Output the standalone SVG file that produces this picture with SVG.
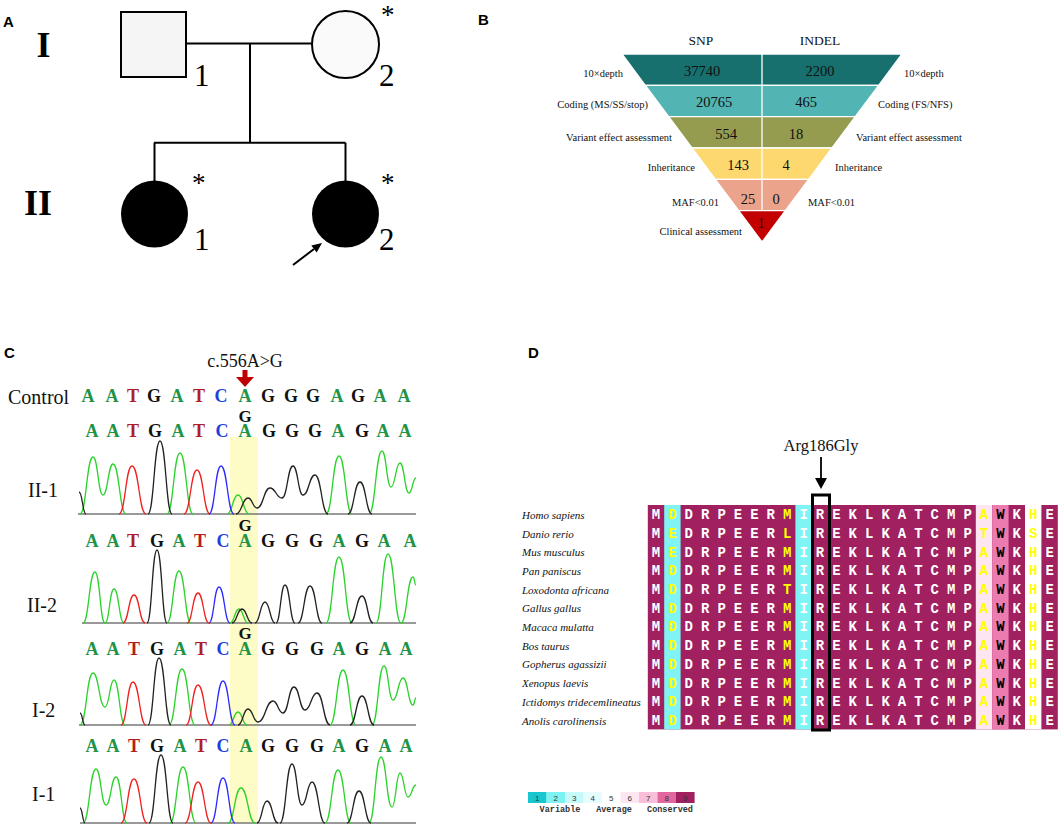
<svg xmlns="http://www.w3.org/2000/svg" width="1059" height="826" viewBox="0 0 1059 826">
<style>
.pl{font-family:"Liberation Sans",Arial,sans-serif;font-weight:bold;font-size:15px;fill:#000}
.ser{font-family:"Liberation Serif","Times New Roman",serif;fill:#111}
.gen{font-family:"Liberation Serif",serif;font-weight:bold;font-size:36px}
.num{font-family:"Liberation Serif",serif;font-size:31px}
.ast{font-family:"Liberation Serif",serif;font-size:27px}
.ln{stroke:#000;stroke-width:2;fill:none}
.fl{font-family:"Liberation Serif",serif;font-size:10.5px;fill:#111}
.fn{font-family:"Liberation Serif",serif;font-size:14.5px;fill:#111;text-anchor:middle}
.band{stroke:#fff;stroke-width:1.3}
.sq{font-family:"Liberation Serif",serif;font-weight:bold;font-size:18px;text-anchor:middle}
.mg{font-family:"Liberation Serif",serif;font-weight:bold;font-size:17px;text-anchor:middle;fill:#111}
.A{fill:#1f9447}.T{fill:#b01e23}.G{fill:#111}.C{fill:#1f3fe0}
.lab{font-family:"Liberation Serif",serif;font-size:20px;fill:#111}
.tr{fill:none;stroke-width:1.3}
.tg{stroke:#2ad22a}.trd{stroke:#f02020}.tb{stroke:#222}.tbl{stroke:#2a2aff}
.ax{stroke:#777;stroke-width:1.5}
.sp{font-family:"Liberation Serif",serif;font-style:italic;font-size:11px;fill:#111}
.aa{font-family:"Liberation Mono","Courier New",monospace;font-weight:bold;font-size:14px;fill:#fff;text-anchor:middle}
.ye{fill:#ffff00}.bk{fill:#000}
.lg{font-family:"Liberation Sans",sans-serif;font-size:8px;fill:#333;text-anchor:middle}
.lgt{font-family:"Liberation Mono",monospace;font-weight:bold;font-size:8.5px;fill:#333;text-anchor:middle}
</style>

<rect width="1059" height="826" fill="#fff"/>

<!-- Panel labels -->
<text class="pl" x="3" y="27">A</text>
<text class="pl" x="478" y="25">B</text>
<text class="pl" x="4" y="358">C</text>
<text class="pl" x="528" y="358">D</text>

<!-- ===== Panel A: pedigree ===== -->
<text class="gen" x="43.5" y="57" text-anchor="middle">I</text>
<text class="gen" x="38" y="215" text-anchor="middle">II</text>

<g id="connectors">
  <path class="ln" d="M186,43.5 H312"/>
  <path class="ln" d="M250,43.5 V142.7"/>
  <path class="ln" d="M154,142.7 H345.5"/>
  <path class="ln" d="M154.5,142.7 V181"/>
  <path class="ln" d="M345.5,142.7 V181"/>
  <path class="ln" d="M293,265 L314,249"/>
  <polygon points="322,243 316.7,252.6 311.3,245.4" fill="#000"/>
</g>

<g id="I-1">
  <rect x="121" y="12" width="65" height="65" fill="#f5f5f5" stroke="#000" stroke-width="2"/>
  <text class="num" x="194" y="86">1</text>
</g>
<g id="I-2">
  <circle cx="345.5" cy="44.5" r="33.5" fill="#fafafa" stroke="#000" stroke-width="2"/>
  <text class="ast" x="381" y="24">*</text>
  <text class="num" x="379" y="86">2</text>
</g>
<g id="II-1">
  <circle cx="154.5" cy="214" r="33.5" fill="#000"/>
  <text class="ast" x="192" y="192">*</text>
  <text class="num" x="194" y="250">1</text>
</g>
<g id="II-2">
  <circle cx="345.5" cy="214" r="33.5" fill="#000"/>
  <text class="ast" x="381" y="192">*</text>
  <text class="num" x="379" y="250">2</text>
</g>

<!-- ===== Panel B: funnel ===== -->
<g id="funnel">
  <text class="ser" x="701" y="45" font-size="13.5" text-anchor="middle">SNP</text>
  <text class="ser" x="820" y="45" font-size="13.5" text-anchor="middle">INDEL</text>
  <polygon class="band" fill="#17706e" points="622,54 902,54 878.7,85.3 645.3,85.3"/>
  <polygon class="band" fill="#52b5b4" points="645.3,85.3 878.7,85.3 855.3,116.7 668.7,116.7"/>
  <polygon class="band" fill="#959b4f" points="668.7,116.7 855.3,116.7 832,148 692,148"/>
  <polygon class="band" fill="#fdd86f" points="692,148 832,148 808.7,179.3 715.3,179.3"/>
  <polygon class="band" fill="#eca38b" points="715.3,179.3 808.7,179.3 785.3,210.7 738.7,210.7"/>
  <polygon class="band" fill="#c20000" points="738.7,210.7 785.3,210.7 762,242"/>
  <path d="M762,54 V210.7" stroke="#fff" stroke-width="1.3"/>
  <text class="fn" x="702" y="76">37740</text>
  <text class="fn" x="820" y="76">2200</text>
  <text class="fn" x="714" y="107">20765</text>
  <text class="fn" x="806" y="107">465</text>
  <text class="fn" x="726" y="139">554</text>
  <text class="fn" x="796" y="139">18</text>
  <text class="fn" x="738" y="170">143</text>
  <text class="fn" x="786" y="170">4</text>
  <text class="fn" x="748" y="204">25</text>
  <text class="fn" x="776" y="204">0</text>
  <text class="fn" x="761" y="228">1</text>
  <g text-anchor="end">
    <text class="fl" x="623" y="77">10×depth</text>
    <text class="fl" x="648" y="108">Coding (MS/SS/stop)</text>
    <text class="fl" x="672" y="141">Variant effect assessment</text>
    <text class="fl" x="695" y="171">Inheritance</text>
    <text class="fl" x="719" y="206">MAF&lt;0.01</text>
    <text class="fl" x="742" y="235">Clinical assessment</text>
  </g>
  <text class="fl" x="904" y="77">10×depth</text>
  <text class="fl" x="878" y="108">Coding (FS/NFS)</text>
  <text class="fl" x="856" y="141">Variant effect assessment</text>
  <text class="fl" x="835" y="171">Inheritance</text>
  <text class="fl" x="808" y="206">MAF&lt;0.01</text>
</g>

<!-- ===== Panel C: chromatograms ===== -->
<g id="sanger">
  <rect x="230" y="437" width="28" height="386" fill="#fdfbc6"/>
  <text class="ser" x="245" y="367" font-size="18" text-anchor="middle">c.556A&gt;G</text>
  <rect x="242.5" y="370" width="5" height="9" fill="#c00000"/>
  <polygon points="236,377 254,377 245,387" fill="#c00000"/>

  <text class="lab" x="8" y="404">Control</text>
  <text class="lab" x="28" y="497">II-1</text>
  <text class="lab" x="27" y="612">II-2</text>
  <text class="lab" x="32" y="717">I-2</text>
  <text class="lab" x="32" y="801">I-1</text>

  <text class="sq" y="402"><tspan class="A" x="88">A</tspan><tspan class="A" x="112">A</tspan><tspan class="T" x="133">T</tspan><tspan class="G" x="154">G</tspan><tspan class="A" x="177">A</tspan><tspan class="T" x="199">T</tspan><tspan class="C" x="221">C</tspan><tspan class="A" x="245">A</tspan><tspan class="G" x="268">G</tspan><tspan class="G" x="291">G</tspan><tspan class="G" x="313">G</tspan><tspan class="A" x="337">A</tspan><tspan class="G" x="358">G</tspan><tspan class="A" x="380">A</tspan><tspan class="A" x="404">A</tspan></text>

  <text class="mg" x="245" y="422">G</text>
  <text class="sq" y="437"><tspan class="A" x="92">A</tspan><tspan class="A" x="113">A</tspan><tspan class="T" x="133">T</tspan><tspan class="G" x="155">G</tspan><tspan class="A" x="178">A</tspan><tspan class="T" x="199">T</tspan><tspan class="C" x="222">C</tspan><tspan class="A" x="245">A</tspan><tspan class="G" x="269">G</tspan><tspan class="G" x="292">G</tspan><tspan class="G" x="315">G</tspan><tspan class="A" x="338">A</tspan><tspan class="G" x="362">G</tspan><tspan class="A" x="383">A</tspan><tspan class="A" x="405">A</tspan></text>

  <text class="mg" x="245" y="531">G</text>
  <text class="sq" y="547"><tspan class="A" x="92">A</tspan><tspan class="A" x="113">A</tspan><tspan class="T" x="133">T</tspan><tspan class="G" x="157">G</tspan><tspan class="A" x="179">A</tspan><tspan class="T" x="200">T</tspan><tspan class="C" x="223">C</tspan><tspan class="A" x="245">A</tspan><tspan class="G" x="268">G</tspan><tspan class="G" x="292">G</tspan><tspan class="G" x="316">G</tspan><tspan class="A" x="339">A</tspan><tspan class="G" x="362">G</tspan><tspan class="A" x="384">A</tspan><tspan class="A" x="410">A</tspan></text>

  <text class="mg" x="245" y="639">G</text>
  <text class="sq" y="655"><tspan class="A" x="92">A</tspan><tspan class="A" x="113">A</tspan><tspan class="T" x="134">T</tspan><tspan class="G" x="157">G</tspan><tspan class="A" x="180">A</tspan><tspan class="T" x="201">T</tspan><tspan class="C" x="223">C</tspan><tspan class="A" x="245">A</tspan><tspan class="G" x="268">G</tspan><tspan class="G" x="292">G</tspan><tspan class="G" x="317">G</tspan><tspan class="A" x="339">A</tspan><tspan class="G" x="362">G</tspan><tspan class="A" x="385">A</tspan><tspan class="A" x="406">A</tspan></text>

  <text class="sq" y="752"><tspan class="A" x="92">A</tspan><tspan class="A" x="113">A</tspan><tspan class="T" x="134">T</tspan><tspan class="G" x="157">G</tspan><tspan class="A" x="180">A</tspan><tspan class="T" x="201">T</tspan><tspan class="C" x="223">C</tspan><tspan class="A" x="246">A</tspan><tspan class="G" x="268">G</tspan><tspan class="G" x="292">G</tspan><tspan class="G" x="317">G</tspan><tspan class="A" x="339">A</tspan><tspan class="G" x="362">G</tspan><tspan class="A" x="385">A</tspan><tspan class="A" x="406">A</tspan></text>

  <!-- trace II-1 -->
  <path class="ax" d="M78,514 H416"/>
  <path class="tr tg" d="M80,514 C86.5,514 86.5,457 93,457 C98,457 98,495 103,495 C108,495 108,464 113,464 C119.5,464 119.5,514 126,514 M167,514 C173.5,514 173.5,453 180,453 C186.5,453 186.5,514 193,514 M227,514 C232.5,514 232.5,495 238,495 C243.5,495 243.5,514 249,514 M326,514 C332.5,514 332.5,456 339,456 C345.5,456 345.5,514 352,514 M369,514 C375.5,514 375.5,451 382,451 C386.5,451 386.5,487 391,487 C395.5,487 395.5,463 400,463 C404.5,463 404.5,493 409,493 C412.5,493 412.5,478 416,478"/>
  <path class="tr trd" d="M119,514 C125.5,514 125.5,466 132,466 C139,466 139,514 146,514 M184,514 C190.5,514 190.5,470 197,470 C203.5,470 203.5,514 210,514"/>
  <path class="tr tb" d="M79,492 C82.5,492 82.5,514 86,514 M148,514 C154,514 154,441 160,441 C166,441 166,514 172,514 M236,514 C242,514 242,498 248,498 C252.5,498 252.5,508 257,508 C263.5,508 263.5,488 270,488 C276,488 276,498 282,498 C287.5,498 287.5,466 293,466 C298,466 298,495 303,495 C309,495 309,475 315,475 C321.5,475 321.5,514 328,514 M348,514 C354,514 354,482 360,482 C366,482 366,514 372,514"/>
  <path class="tr tbl" d="M209,514 C215,514 215,466 221,466 C227.5,466 227.5,514 234,514"/>

  <!-- trace II-2 -->
  <path class="ax" d="M82,623 H416"/>
  <path class="tr tg" d="M83,623 C89,623 89,572 95,572 C100,572 100,623 105,623 C109.5,623 109.5,589 114,589 C119,589 119,623 124,623 M167,623 C173,623 173,571 179,571 C185,571 185,623 191,623 M230,623 C234.5,623 234.5,609 239,609 C243.5,609 243.5,623 248,623 M326,623 C332.5,623 332.5,557 339,557 C345.5,557 345.5,623 352,623 M376,623 C382,623 382,554 388,554 C394.5,554 394.5,623 401,623 C407,623 407,577 413,577 C414.5,577 414.5,585 416,585"/>
  <path class="tr trd" d="M123,623 C128.5,623 128.5,595 134,595 C139.5,595 139.5,623 145,623 M187,623 C192.5,623 192.5,593 198,593 C203.5,593 203.5,623 209,623"/>
  <path class="tr tb" d="M147,623 C152,623 152,550 157,550 C162,550 162,623 167,623 M232,623 C237,623 237,609 242,609 C247,609 247,623 252,623 M255,623 C260,623 260,602 265,602 C270,602 270,623 275,623 M276,623 C280.5,623 280.5,585 285,585 C290,585 290,623 295,623 M298,623 C304,623 304,586 310,586 C316,586 316,623 322,623 M350,623 C356,623 356,596 362,596 C367.5,596 367.5,623 373,623"/>
  <path class="tr tbl" d="M209,623 C214,623 214,587 219,587 C224.5,587 224.5,623 230,623"/>

  <!-- trace I-2 -->
  <path class="ax" d="M79,725 H416"/>
  <path class="tr tg" d="M80,725 C86.5,725 86.5,673 93,673 C99,673 99,707 105,707 C109.5,707 109.5,680 114,680 C119.5,680 119.5,725 125,725 M169,725 C175.5,725 175.5,669 182,669 C188.5,669 188.5,725 195,725 M229,725 C233.5,725 233.5,712 238,712 C242.5,712 242.5,725 247,725 M330,725 C336.5,725 336.5,670 343,670 C349.5,670 349.5,725 356,725 M372,725 C378,725 378,666 384,666 C388.5,666 388.5,700 393,700 C398,700 398,678 403,678 C408,678 408,705 413,705 C414.5,705 414.5,698 416,698"/>
  <path class="tr trd" d="M121,725 C127,725 127,682 133,682 C139.5,682 139.5,725 146,725 M186,725 C192,725 192,685 198,685 C204.5,685 204.5,725 211,725"/>
  <path class="tr tb" d="M80,713 C82.5,713 82.5,725 85,725 M148,725 C153.5,725 153.5,658 159,658 C165,658 165,725 171,725 M238,725 C243,725 243,709 248,709 C253,709 253,722 258,722 C265.5,722 265.5,701 273,701 C278,701 278,713 283,713 C288.5,713 288.5,687 294,687 C299.5,687 299.5,710 305,710 C311,710 311,693 317,693 C323.5,693 323.5,725 330,725 M350,725 C356,725 356,696 362,696 C368,696 368,725 374,725"/>
  <path class="tr tbl" d="M211,725 C217,725 217,681 223,681 C229,681 229,725 235,725"/>

  <!-- trace I-1 -->
  <path class="ax" d="M80,823 H416"/>
  <path class="tr tg" d="M83,823 C89.5,823 89.5,769 96,769 C101,769 101,805 106,805 C111,805 111,777 116,777 C121.5,777 121.5,823 127,823 M170,823 C176.5,823 176.5,767 183,767 C189.5,767 189.5,823 196,823 M228,823 C234.5,823 234.5,788 241,788 C248,788 248,823 255,823 M325,823 C331.5,823 331.5,770 338,770 C344.5,770 344.5,823 351,823 M369,823 C375,823 375,757 381,757 C386.5,757 386.5,807 392,807 C396,807 396,773 400,773 C404,773 404,797 408,797 C412,797 412,785 416,785"/>
  <path class="tr trd" d="M121,823 C127.5,823 127.5,779 134,779 C140.5,779 140.5,823 147,823 M185,823 C191.5,823 191.5,782 198,782 C204.5,782 204.5,823 211,823"/>
  <path class="tr tb" d="M80,808 C82.5,808 82.5,823 85,823 M149,823 C155,823 155,755 161,755 C167,755 167,823 173,823 M257,823 C262,823 262,801 267,801 C272.5,801 272.5,823 278,823 M280,823 C286,823 286,764 292,764 C297,764 297,805 302,805 C307,805 307,782 312,782 C318.5,782 318.5,823 325,823 M347,823 C353,823 353,791 359,791 C365,791 365,823 371,823"/>
  <path class="tr tbl" d="M211,823 C217,823 217,778 223,778 C229,778 229,823 235,823"/>
</g>

<!-- ===== Panel D: alignment ===== -->
<g id="alignment">
  <text class="ser" x="821" y="451" font-size="16.5" text-anchor="middle">Arg186Gly</text>
  <path d="M821,457 V480" stroke="#000" stroke-width="1.8"/>
  <polygon points="815,478 827,478 821,489" fill="#000"/>

  <rect x="647.8" y="505" width="410" height="224.4" fill="#a1205f"/>
  <rect x="664.2" y="505" width="16.4" height="224.4" fill="#80f4f4"/>
  <rect x="795.4" y="505" width="16.4" height="224.4" fill="#80f4f4"/>
  <rect x="975.8" y="505" width="16.4" height="224.4" fill="#fde6f1"/>
  <rect x="992.2" y="505" width="16.4" height="224.4" fill="#ec7bb0"/>
  <rect x="1025" y="505" width="16.4" height="224.4" fill="#ffffff"/>

  <text class="sp" x="522" y="518.8">Homo sapiens</text>
  <text class="sp" x="522" y="537.5">Danio rerio</text>
  <text class="sp" x="522" y="556.2">Mus musculus</text>
  <text class="sp" x="522" y="574.9">Pan paniscus</text>
  <text class="sp" x="522" y="593.6">Loxodonta africana</text>
  <text class="sp" x="522" y="612.3">Gallus gallus</text>
  <text class="sp" x="522" y="631">Macaca mulatta</text>
  <text class="sp" x="522" y="649.7">Bos taurus</text>
  <text class="sp" x="522" y="668.4">Gopherus agassizii</text>
  <text class="sp" x="522" y="687.1">Xenopus laevis</text>
  <text class="sp" x="522" y="705.8">Ictidomys tridecemlineatus</text>
  <text class="sp" x="522" y="724.5">Anolis carolinensis</text>

  <g class="aa">
  <text x="656 672.4 688.8 705.2 721.6 738 754.4 770.8 787.2 803.6 820 836.4 852.8 869.2 885.6 902 918.4 934.8 951.2 967.6 984 1000.4 1016.8 1033.2 1049.6" y="519.2">M<tspan class="ye">D</tspan>DRPEER<tspan class="ye">M</tspan>IREKLKATCMP<tspan class="ye">A</tspan><tspan class="bk">W</tspan>K<tspan class="ye">H</tspan>E</text>
  <text x="656 672.4 688.8 705.2 721.6 738 754.4 770.8 787.2 803.6 820 836.4 852.8 869.2 885.6 902 918.4 934.8 951.2 967.6 984 1000.4 1016.8 1033.2 1049.6" y="537.9">M<tspan class="ye">E</tspan>DRPEER<tspan class="ye">L</tspan>IREKLKATCMP<tspan class="ye">T</tspan><tspan class="bk">W</tspan>K<tspan class="ye">S</tspan>E</text>
  <text x="656 672.4 688.8 705.2 721.6 738 754.4 770.8 787.2 803.6 820 836.4 852.8 869.2 885.6 902 918.4 934.8 951.2 967.6 984 1000.4 1016.8 1033.2 1049.6" y="556.6">M<tspan class="ye">E</tspan>DRPEER<tspan class="ye">M</tspan>IREKLKATCMP<tspan class="ye">A</tspan><tspan class="bk">W</tspan>K<tspan class="ye">H</tspan>E</text>
  <text x="656 672.4 688.8 705.2 721.6 738 754.4 770.8 787.2 803.6 820 836.4 852.8 869.2 885.6 902 918.4 934.8 951.2 967.6 984 1000.4 1016.8 1033.2 1049.6" y="575.3">M<tspan class="ye">D</tspan>DRPEER<tspan class="ye">M</tspan>IREKLKATCMP<tspan class="ye">A</tspan><tspan class="bk">W</tspan>K<tspan class="ye">H</tspan>E</text>
  <text x="656 672.4 688.8 705.2 721.6 738 754.4 770.8 787.2 803.6 820 836.4 852.8 869.2 885.6 902 918.4 934.8 951.2 967.6 984 1000.4 1016.8 1033.2 1049.6" y="594">M<tspan class="ye">D</tspan>DRPEER<tspan class="ye">T</tspan>IREKLKATCMP<tspan class="ye">A</tspan><tspan class="bk">W</tspan>K<tspan class="ye">H</tspan>E</text>
  <text x="656 672.4 688.8 705.2 721.6 738 754.4 770.8 787.2 803.6 820 836.4 852.8 869.2 885.6 902 918.4 934.8 951.2 967.6 984 1000.4 1016.8 1033.2 1049.6" y="612.7">M<tspan class="ye">D</tspan>DRPEER<tspan class="ye">M</tspan>IREKLKATCMP<tspan class="ye">A</tspan><tspan class="bk">W</tspan>K<tspan class="ye">H</tspan>E</text>
  <text x="656 672.4 688.8 705.2 721.6 738 754.4 770.8 787.2 803.6 820 836.4 852.8 869.2 885.6 902 918.4 934.8 951.2 967.6 984 1000.4 1016.8 1033.2 1049.6" y="631.4">M<tspan class="ye">D</tspan>DRPEER<tspan class="ye">M</tspan>IREKLKATCMP<tspan class="ye">A</tspan><tspan class="bk">W</tspan>K<tspan class="ye">H</tspan>E</text>
  <text x="656 672.4 688.8 705.2 721.6 738 754.4 770.8 787.2 803.6 820 836.4 852.8 869.2 885.6 902 918.4 934.8 951.2 967.6 984 1000.4 1016.8 1033.2 1049.6" y="650.1">M<tspan class="ye">D</tspan>DRPEER<tspan class="ye">M</tspan>IREKLKATCMP<tspan class="ye">A</tspan><tspan class="bk">W</tspan>K<tspan class="ye">H</tspan>E</text>
  <text x="656 672.4 688.8 705.2 721.6 738 754.4 770.8 787.2 803.6 820 836.4 852.8 869.2 885.6 902 918.4 934.8 951.2 967.6 984 1000.4 1016.8 1033.2 1049.6" y="668.8">M<tspan class="ye">D</tspan>DRPEER<tspan class="ye">M</tspan>IREKLKATCMP<tspan class="ye">A</tspan><tspan class="bk">W</tspan>K<tspan class="ye">H</tspan>E</text>
  <text x="656 672.4 688.8 705.2 721.6 738 754.4 770.8 787.2 803.6 820 836.4 852.8 869.2 885.6 902 918.4 934.8 951.2 967.6 984 1000.4 1016.8 1033.2 1049.6" y="687.5">M<tspan class="ye">D</tspan>DRPEER<tspan class="ye">M</tspan>IREKLKATCMP<tspan class="ye">A</tspan><tspan class="bk">W</tspan>K<tspan class="ye">H</tspan>E</text>
  <text x="656 672.4 688.8 705.2 721.6 738 754.4 770.8 787.2 803.6 820 836.4 852.8 869.2 885.6 902 918.4 934.8 951.2 967.6 984 1000.4 1016.8 1033.2 1049.6" y="706.2">M<tspan class="ye">D</tspan>DRPEER<tspan class="ye">M</tspan>IREKLKATCMP<tspan class="ye">A</tspan><tspan class="bk">W</tspan>K<tspan class="ye">H</tspan>E</text>
  <text x="656 672.4 688.8 705.2 721.6 738 754.4 770.8 787.2 803.6 820 836.4 852.8 869.2 885.6 902 918.4 934.8 951.2 967.6 984 1000.4 1016.8 1033.2 1049.6" y="724.9">M<tspan class="ye">D</tspan>DRPEER<tspan class="ye">M</tspan>IREKLKATCMP<tspan class="ye">A</tspan><tspan class="bk">W</tspan>K<tspan class="ye">H</tspan>E</text>
  </g>

  <rect x="812.5" y="495" width="17" height="235" fill="none" stroke="#000" stroke-width="3"/>
</g>

<!-- legend -->
<g id="legend">
  <rect x="528" y="792" width="18.6" height="11" fill="#17c6cf"/>
  <rect x="546.5" y="792" width="18.6" height="11" fill="#7df2f2"/>
  <rect x="565" y="792" width="18.6" height="11" fill="#c6f9f9"/>
  <rect x="583.5" y="792" width="18.6" height="11" fill="#e6fdfd"/>
  <rect x="602" y="792" width="18.6" height="11" fill="#ffffff"/>
  <rect x="620.5" y="792" width="18.6" height="11" fill="#fde6f1"/>
  <rect x="639" y="792" width="18.6" height="11" fill="#f9bfd9"/>
  <rect x="657.5" y="792" width="18.6" height="11" fill="#e3679f"/>
  <rect x="676" y="792" width="18.6" height="11" fill="#a1205f"/>
  <text class="lg" x="537.3" y="800.5">1</text>
  <text class="lg" x="555.8" y="800.5">2</text>
  <text class="lg" x="574.3" y="800.5">3</text>
  <text class="lg" x="592.8" y="800.5">4</text>
  <text class="lg" x="611.3" y="800.5">5</text>
  <text class="lg" x="629.8" y="800.5">6</text>
  <text class="lg" x="648.3" y="800.5">7</text>
  <text class="lg" x="666.8" y="800.5">8</text>
  <text class="lg" x="685.3" y="800.5" fill="#fff">9</text>
  <text class="lgt" x="560" y="812">Variable</text>
  <text class="lgt" x="614" y="812">Average</text>
  <text class="lgt" x="670" y="812">Conserved</text>
</g>
</svg>
